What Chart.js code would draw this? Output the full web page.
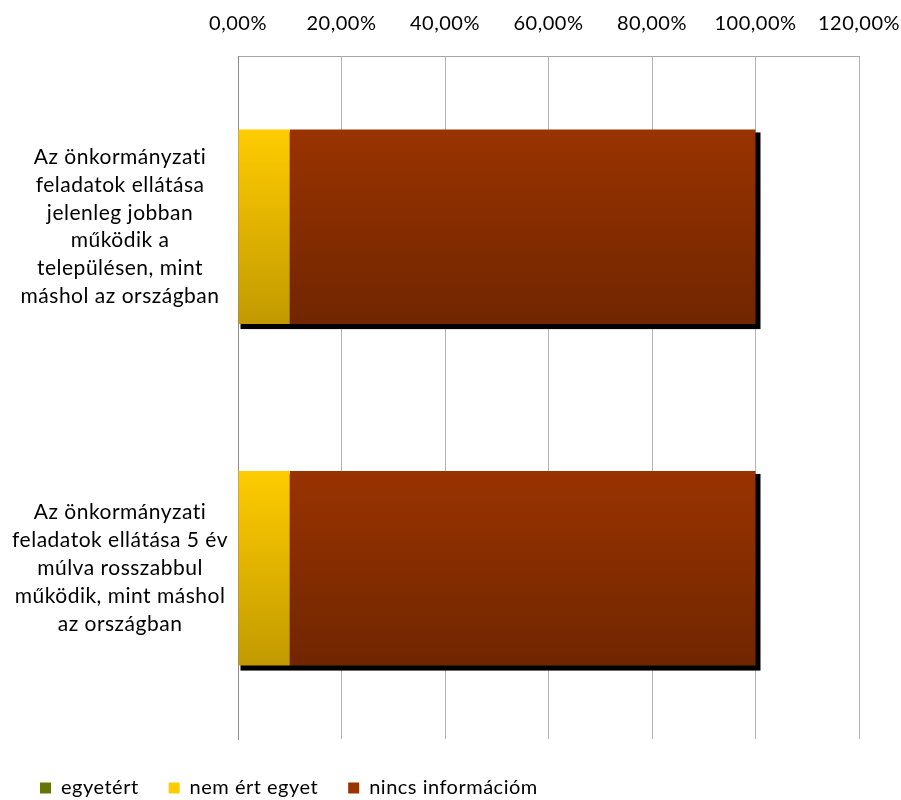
<!DOCTYPE html>
<html>
<head>
<meta charset="utf-8">
<script src="https://cdn.jsdelivr.net/npm/chart.js@4/dist/chart.umd.min.js"></script>
<style>
  html, body { margin: 0; padding: 0; background: #fff; }
  #wrap { width: 901px; height: 800px; }
</style>
</head>
<body>
<div id="wrap"><canvas id="chart" width="901" height="800"></canvas></div>
<script>
// category labels, already split into lines as in the original
const categories = [
  ['Az önkormányzati', 'feladatok ellátása', 'jelenleg jobban', 'működik a', 'településen, mint', 'máshol az országban'],
  ['Az önkormányzati', 'feladatok ellátása 5 év', 'múlva rosszabbul', 'működik, mint máshol', 'az országban']
];
const seriesNames = ['egyetért', 'nem ért egyet', 'nincs információm'];
const egyetert = [0, 0];
const nemErtEgyet = [10, 10];
const nincsInfo = [90, 90];
const xTicks = [0, 20, 40, 60, 80, 100, 120];

const FONT = 'Lato';
const FONT_SIZE = 20;
const CAT_SIZE = 21;
const SPACING = '0.5px';

// gradient colours, top -> bottom
const fills = [
  ['#66750a', '#1f2600'],
  ['#ffcc00', '#c29a00'],
  ['#993300', '#712600']
];

// pick y tick padding so the labels sit centred in the left band
const mctx = document.createElement('canvas').getContext('2d');
mctx.font = CAT_SIZE + 'px ' + FONT;
mctx.letterSpacing = SPACING;
let widest = 0;
categories.forEach(lines => lines.forEach(s => { widest = Math.max(widest, mctx.measureText(s).width); }));
const yPad = Math.max(2, Math.round(118 - widest / 2));

function barFill(idx) {
  return function (ctx) {
    const chart = ctx.chart;
    const ys = chart.scales.y;
    if (ctx.type !== 'data' || !ys) return fills[idx][0];
    const c = ys.getPixelForValue(ctx.dataIndex);
    const band = (ys.bottom - ys.top) / categories.length;
    const h = band * 0.57;
    const g = chart.ctx.createLinearGradient(0, c - h / 2, 0, c + h / 2);
    g.addColorStop(0, fills[idx][0]);
    g.addColorStop(1, fills[idx][1]);
    return g;
  };
}

// Excel-ish loose letter spacing for all text
const spacing = {
  id: 'spacing',
  beforeLayout(chart) { chart.ctx.letterSpacing = SPACING; },
  beforeDraw(chart) { chart.ctx.letterSpacing = SPACING; }
};

const barShadow = {
  id: 'barShadow',
  beforeDatasetsDraw(chart) {
    const ctx = chart.ctx;
    for (let i = 0; i < chart.data.labels.length; i++) {
      let l = Infinity, r = -Infinity, t = Infinity, b = -Infinity;
      chart.data.datasets.forEach((ds, d) => {
        const el = chart.getDatasetMeta(d).data[i];
        if (!el || !ds.data[i]) return;
        const p = el.getProps(['x', 'y', 'base', 'height'], true);
        l = Math.min(l, p.base, p.x); r = Math.max(r, p.base, p.x);
        t = Math.min(t, p.y - p.height / 2); b = Math.max(b, p.y + p.height / 2);
      });
      if (l === Infinity) continue;
      ctx.save();
      ctx.fillStyle = '#000';
      ctx.fillRect(l + 2, t + 3, r - l + 3, b - t + 2);
      ctx.restore();
    }
  }
};

new Chart(document.getElementById('chart'), {
  type: 'bar',
  data: {
    labels: categories,
    datasets: [
      { label: seriesNames[0], data: egyetert, backgroundColor: barFill(0) },
      { label: seriesNames[1], data: nemErtEgyet, backgroundColor: barFill(1) },
      { label: seriesNames[2], data: nincsInfo, backgroundColor: barFill(2) }
    ]
  },
  options: {
    indexAxis: 'y',
    responsive: false,
    animation: false,
    layout: { padding: { top: -8, right: 42, left: 10, bottom: -8 } },
    datasets: { bar: { categoryPercentage: 1, barPercentage: 0.57, borderWidth: 0 } },
    scales: {
      x: {
        position: 'top',
        stacked: true,
        min: 0,
        max: 120,
        afterBuildTicks: s => { s.ticks = xTicks.map(v => ({ value: v })); },
        afterFit: s => { s.paddingLeft = 0; s.paddingRight = 0; },
        ticks: {
          padding: 20,
          color: '#000',
          font: { family: FONT, size: FONT_SIZE },
          callback: v => v.toFixed(2).replace('.', ',') + '%'
        },
        grid: { color: '#b3b3b3', drawTicks: false },
        border: { display: true, color: '#a6a6a6' }
      },
      y: {
        stacked: true,
        afterFit: s => { s.width = 228; s.paddingTop = 0; s.paddingBottom = 0; },
        grid: { display: false, drawTicks: false },
        border: { display: true, color: '#8c8c8c' },
        ticks: {
          crossAlign: 'center',
          padding: yPad,
          color: '#000',
          font: { family: FONT, size: CAT_SIZE, lineHeight: 1.33 }
        }
      }
    },
    plugins: {
      tooltip: { enabled: false },
      legend: {
        position: 'bottom',
        align: 'start',
        title: { display: true, text: '', padding: 0, font: { size: 9, lineHeight: 1 } },
        labels: {
          boxWidth: 11,
          boxHeight: 11,
          padding: 30,
          color: '#000',
          font: { family: FONT, size: FONT_SIZE },
          generateLabels: chart => chart.data.datasets.map((ds, i) => ({
            text: ds.label,
            fillStyle: fills[i][0],
            strokeStyle: fills[i][0],
            fontColor: '#000',
            lineWidth: 0,
            datasetIndex: i
          }))
        }
      }
    }
  },
  plugins: [spacing, barShadow]
});
</script>
</body>
</html>
